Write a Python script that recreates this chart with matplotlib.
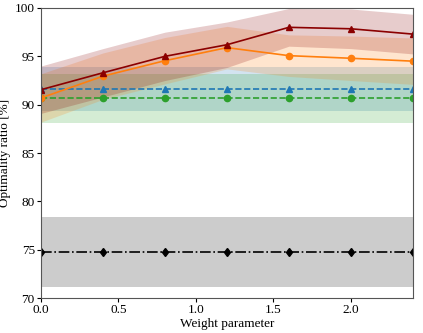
import matplotlib
matplotlib.use("Agg")
import matplotlib.pyplot as plt
import numpy as np

plt.rcParams['font.family'] = ['Liberation Serif', 'DejaVu Serif']
plt.rcParams['mathtext.fontset'] = 'stix'

weights = [0.0, 0.4, 0.8, 1.2, 1.6, 2.0, 2.4]

red_mean = [91.55, 93.3, 95.0, 96.2, 98.0, 97.85, 97.3]
red_std = [2.45, 2.5, 2.5, 2.35, 1.95, 2.05, 2.05]

orange_mean = [90.7, 92.95, 94.55, 95.9, 95.07, 94.8, 94.5]
orange_std = [2.5, 2.4, 2.4, 2.2, 2.15, 2.3, 2.4]

blue_mean = [91.6] * 7
blue_std = [2.3] * 7

green_mean = [90.65] * 7
green_std = [2.55] * 7

black_mean = [74.75] * 7
black_std = [3.65] * 7

fig = plt.figure(figsize=(4.23, 3.33), dpi=100)
ax = fig.add_axes([0.097, 0.105, 0.879, 0.871])

series = [
    (black_mean, black_std, 'black', '-.', 'd'),
    (blue_mean, blue_std, 'tab:blue', '--', '^'),
    (green_mean, green_std, 'tab:green', '--', 'o'),
    (orange_mean, orange_std, 'tab:orange', '-', 'o'),
    (red_mean, red_std, 'darkred', '-', '^'),
]

x = np.array(weights)
for mean, std, color, ls, mk in series:
    m = np.array(mean)
    s = np.array(std)
    ax.fill_between(x, m - s, m + s, color=color, alpha=0.2, linewidth=0)
    ax.plot(x, m, color=color, linestyle=ls, marker=mk, markersize=4.5, linewidth=1.2)

ax.set_xlim(0, 2.4)
ax.set_ylim(70, 100)
ax.set_xticks([0.0, 0.5, 1.0, 1.5, 2.0])
ax.set_xticklabels(['0.0', '0.5', '1.0', '1.5', '2.0'])
ax.set_yticks([70, 75, 80, 85, 90, 95, 100])
ax.tick_params(labelsize=9.5, length=3, pad=1.5)
ax.set_xlabel('Weight parameter', fontsize=9.5, labelpad=1)
ax.set_ylabel('Optimality ratio [%]', fontsize=9.5, labelpad=3)
for sp in ax.spines.values():
    sp.set_color('#555555')

fig.savefig('out.png', dpi=100)
